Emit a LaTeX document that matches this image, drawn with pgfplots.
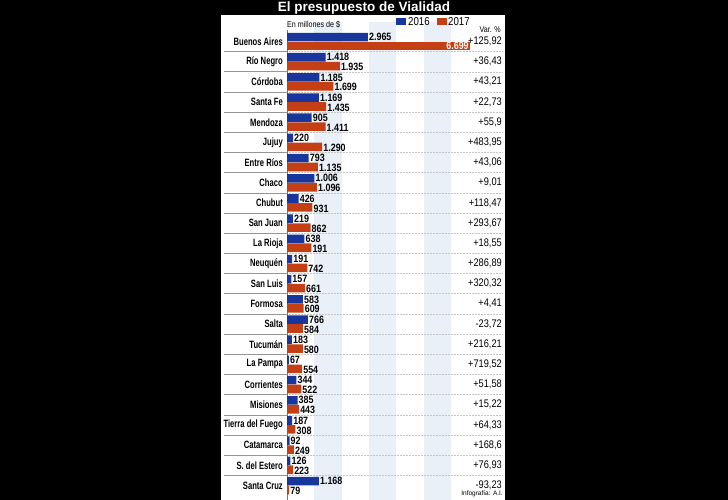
\documentclass[border=0pt]{standalone}
\usepackage{fontspec}
\setmainfont{Liberation Sans}
\newfontfamily\cond{Liberation Sans}[FakeStretch=0.72]
\newfontfamily\condv{Liberation Sans}[FakeStretch=0.84]
\newfontfamily\condr{Liberation Sans}[FakeStretch=0.84]
\usepackage{pgfplots}
\pgfplotsset{compat=1.18}
\definecolor{b16}{RGB}{24,54,156}
\definecolor{r17}{RGB}{196,64,20}
\definecolor{band}{RGB}{234,240,248}
\definecolor{sep}{RGB}{150,150,150}
\begin{document}
\begin{tikzpicture}[x=1pt,y=1pt]
\fill[black] (0,0) rectangle (728,500);
\useasboundingbox (0,0) rectangle (728,500);
\fill[white] (221,0) rectangle (505,485);
% light bands every other 1000 (0 at x=287, 27.3 per 1000)
\fill[band] (314.3,0) rectangle (341.6,478);
\fill[band] (368.9,0) rectangle (396.2,478);
\fill[band] (423.5,0) rectangle (450.8,478);
\foreach \k in {0,...,21} {
  \pgfmathsetmacro\yy{500-41.5-20.18*(\k+0.5)}
  \draw[sep, line width=0.6pt] (224,\yy) -- (287,\yy);
  \draw[sep!55, densely dotted, line width=0.5pt] (287,\yy) -- (503,\yy);
}
\draw[sep!80!black, line width=0.6pt] (287,0) -- (287,470);
\begin{axis}[
  at={(287pt,4.4pt)}, anchor=south west,
  scale only axis, width=191.1pt, height=464.2pt,
  xmin=0, xmax=7000, ymin=-0.5, ymax=22.5, y dir=reverse,
  axis line style={draw=none},
  xtick=\empty, ytick={0,...,22},
  yticklabels={Buenos Aires,Río Negro,Córdoba,Santa Fe,Mendoza,Jujuy,Entre Ríos,Chaco,Chubut,San Juan,La Rioja,Neuquén,San Luis,Formosa,Salta,Tucumán,La Pampa,Corrientes,Misiones,Tierra del Fuego,Catamarca,S. del Estero,Santa Cruz},
  major tick length=0pt,
  yticklabel style={font=\cond\bfseries\fontsize{10.6}{12}\selectfont, anchor=east, inner sep=0pt, xshift=-4pt},
  clip=false,
  xbar, bar width=8.6pt, bar shift=0pt,
  point meta=explicit symbolic,
  nodes near coords,
  nodes near coords style={font=\condv\bfseries\fontsize{10.6}{12}\selectfont, anchor=west, inner sep=1pt},
]
\addplot[fill=b16, draw=none] coordinates {
(2965,-0.22)[2.965] (1418,0.78)[1.418] (1185,1.78)[1.185] (1169,2.78)[1.169]
(905,3.78)[905] (220,4.78)[220] (793,5.78)[793] (1006,6.78)[1.006]
(426,7.78)[426] (219,8.78)[219] (638,9.78)[638] (191,10.78)[191]
(157,11.78)[157] (583,12.78)[583] (766,13.78)[766] (183,14.78)[183]
(67,15.78)[67] (344,16.78)[344] (385,17.78)[385] (187,18.78)[187]
(92,19.78)[92] (126,20.78)[126] (1168,21.78)[1.168]
};
\addplot[fill=r17, draw=none, nodes near coords style={yshift=-1pt}] coordinates {
(1935,1.22)[1.935] (1699,2.22)[1.699] (1435,3.22)[1.435] (1411,4.22)[1.411]
(1290,5.22)[1.290] (1135,6.22)[1.135] (1096,7.22)[1.096] (931,8.22)[931]
(862,9.22)[862] (890,10.22)[191] (742,11.22)[742] (661,12.22)[661]
(609,13.22)[609] (584,14.22)[584] (580,15.22)[580] (554,16.22)[554]
(522,17.22)[522] (443,18.22)[443] (308,19.22)[308] (249,20.22)[249]
(223,21.22)[223] (79,22.22)[79]
};
\addplot[fill=r17, draw=none, nodes near coords style={anchor=east, text=white}] coordinates {(6699,0.22)[6.699]};
\end{axis}
\foreach \v [count=\i from 0] in {{+125,92},{+36,43},{+43,21},{+22,73},{+55,9},{+483,95},{+43,06},{+9,01},{+118,47},{+293,67},{+18,55},{+286,89},{+320,32},{+4,41},{-23,72},{+216,21},{+719,52},{+51,58},{+15,22},{+64,33},{+168,6},{+76,93},{-93,23}} {
  \node[anchor=east, inner sep=0pt, font=\condr\fontsize{11}{12}\selectfont] at (502,{500-41.5-20.18*\i}) {\v};
}
\node[white, font=\bfseries\fontsize{13.5}{15}\selectfont] at (364,492) {El presupuesto de Vialidad};
\node[anchor=west, inner sep=0pt, font=\condr\fontsize{8.5}{9}\selectfont] at (287,475) {En millones de \$};
\fill[b16] (396,475) rectangle (406,482);
\node[anchor=west, inner sep=0pt, font=\condr\fontsize{11.5}{12}\selectfont] at (408,478.5) {2016};
\fill[r17] (437,475) rectangle (447,482);
\node[anchor=west, inner sep=0pt, font=\condr\fontsize{11.5}{12}\selectfont] at (448,478.5) {2017};
\node[anchor=east, inner sep=0pt, font=\condr\fontsize{8.5}{9}\selectfont] at (501,470) {Var. \%};
\node[anchor=east, inner sep=0pt, font=\fontsize{6.5}{7}\selectfont] at (503,6) {Infografía: A.I.};
\end{tikzpicture}
\end{document}
